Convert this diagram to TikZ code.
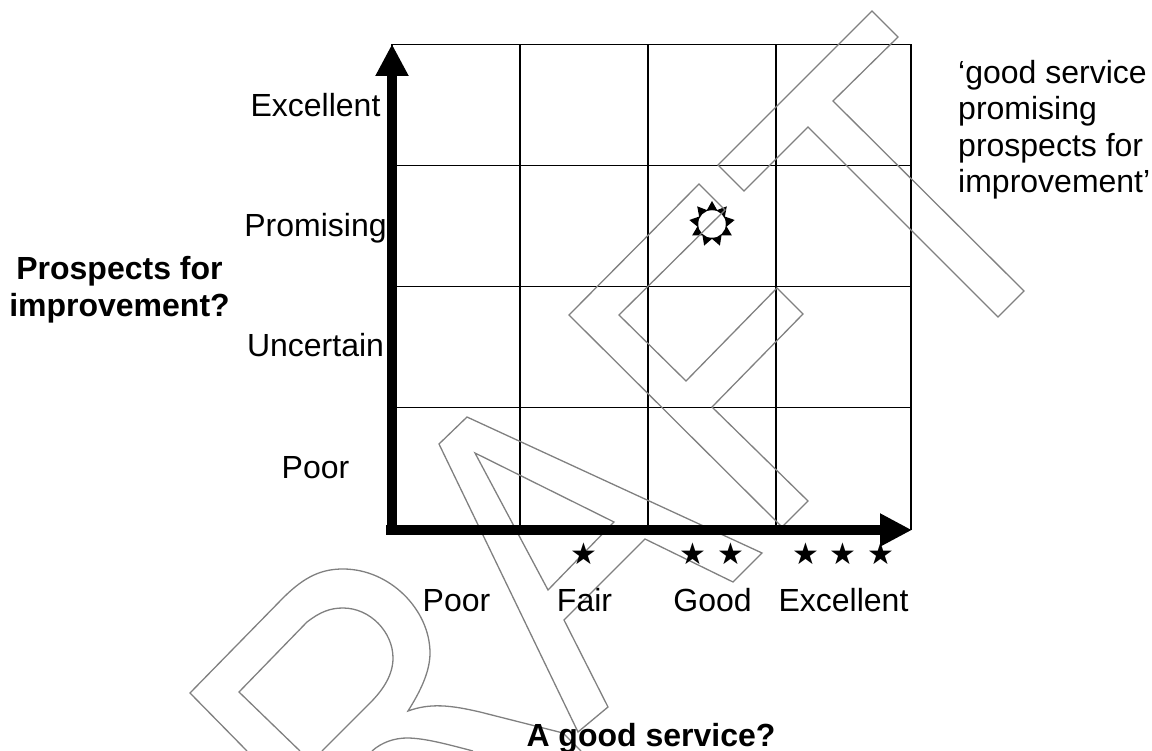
\documentclass[tikz,border=0pt]{standalone}
\usepackage{fontspec}
\setmainfont{Liberation Sans}
\newfontfamily\symfont{DejaVu Sans}
\usepackage{tikz}
\usetikzlibrary{positioning,shapes.geometric,arrows.meta}
\definecolor{ghost}{HTML}{808080}
\tikzset{
  gridline/.style={draw, line width=1.5pt},
  axisline/.style={draw, line width=10.5pt, -{Triangle[length=32pt,width=31pt]}},
  ghostline/.style={draw=ghost, line width=1.3pt, line join=miter},
  scalelabel/.style={font=\fontsize{32}{37}\selectfont, inner sep=0pt, anchor=base},
  titlelabel/.style={font=\fontsize{32}{37}\selectfont\bfseries, align=center, inner sep=0pt},
  starmark/.style={font=\fontsize{30}{35}\selectfont\symfont, inner sep=0pt}
}

\begin{document}
\begin{tikzpicture}[x=1pt, y=-1pt]
  \useasboundingbox (0,0) rectangle (1152,751);

  % grid
  \foreach \xpos in {392,520,648,776,911}
    \draw[gridline] (\xpos,44.5) -- (\xpos,530);
  \foreach \ypos in {44.5,165.5,286.5,407.5}
    \draw[gridline] (392,\ypos) -- (911,\ypos);

  % sun
  \node[star, star points=9, star point ratio=1.55, minimum size=46pt, inner sep=0pt, fill=black] (sunrays) at (712,224) {};
  \node[circle, fill=white, minimum size=27.5pt, inner sep=0pt] (sundisc) at (712,224) {};

  % watermark letters
  \draw[ghostline] (872,11) -- (898,37) -- (833,101) -- (1024,291) -- (998,317) -- (808,127) -- (744,191) -- (718,165) -- cycle;
  \draw[ghostline] (699,184) -- (725,210) -- (619,315) -- (686,381) -- (777,288) -- (803,314) -- (712,407) -- (808,501) -- (782,527) -- (569,315) -- cycle;
  \draw[ghostline] (467,417) -- (439,444) -- (578,732) -- (608,707) -- (564,620) -- (645,539) -- (733,582) -- (762,553) -- cycle;
  \draw[ghostline] (475,453) -- (614,522) -- (548,590) -- cycle;
  \draw[ghostline] (247,751) -- (190,693) -- (283,598) .. controls (305,576) and (322,569) .. (343,569) .. controls (390,569) and (430,610) .. (430,653) .. controls (430,672) and (420,692) .. (408,711) .. controls (430,703) and (450,705) .. (480,712) -- (563,733) -- (581,751);
  \draw[ghostline] (300,751) -- (239,692) -- (307,622) .. controls (320,612) and (330,608) .. (343,608) .. controls (370,608) and (393,632) .. (393,658) .. controls (393,675) and (383,690) .. (370,703) -- (322,751);
  \draw[ghostline] (372,751) .. controls (382,742) and (395,738) .. (407,738) .. controls (425,738) and (450,745) .. (473,751);

  % axes
  \coordinate (xstart) at (386,530);
  \coordinate (xend) at (912,530);
  \coordinate (ystart) at (392,535);
  \coordinate (yend) at (392,44);
  \draw[axisline] (xstart) -- (xend);
  \draw[axisline] (ystart) -- (yend);

  % labels
  \node[scalelabel] (yexcellent) at (315.5,117) {Excellent};
  \node[scalelabel] (ypromising) at (315.5,237) {Promising};
  \node[scalelabel] (yuncertain) at (315.5,357) {Uncertain};
  \node[scalelabel] (ypoor) at (315.5,478) {Poor};
  \node[scalelabel] (xpoor) at (456.5,611.5) {Poor};
  \node[scalelabel] (xfair) at (584.5,611.5) {Fair};
  \node[scalelabel] (xgood) at (712.5,611.5) {Good};
  \node[scalelabel] (xexcellent) at (843.5,611.5) {Excellent};
  \node[titlelabel] (ytitle) at (119.5,289.5) {Prospects for\\improvement?};
  \node[titlelabel, anchor=base] (xtitle) at (651,746) {A good service?};
  \node[scalelabel, anchor=north west, align=left, font=\fontsize{32}{36.5}\selectfont] (quote) at (958,60) {‘good service\\promising\\prospects for\\improvement’};

  % stars
  \node[starmark] (staronea) at (584,554) {★};
  \node[starmark] (startwoa) at (693,554) {★};
  \node[starmark] (startwob) at (731,554) {★};
  \node[starmark] (starthreea) at (806,554) {★};
  \node[starmark] (starthreeb) at (843,554) {★};
  \node[starmark] (starthreec) at (881,554) {★};
\end{tikzpicture}
\end{document}
